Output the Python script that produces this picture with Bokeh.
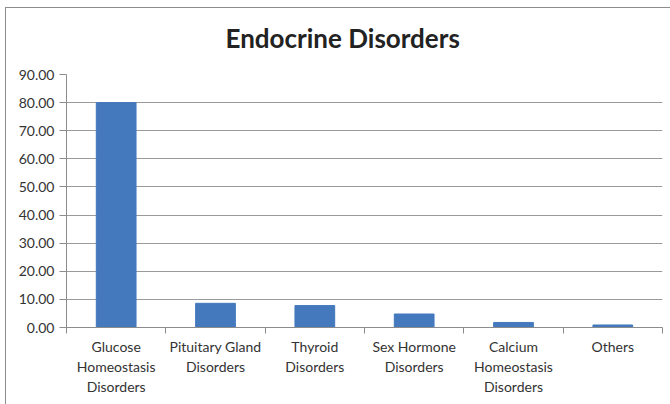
from bokeh.plotting import figure
from bokeh.models import FixedTicker, Range1d, NumeralTickFormatter, Title
from bokeh.embed import file_html
from bokeh.resources import INLINE

title_text = "Endocrine Disorders"
categories = ["Glucose\nHomeostasis\nDisorders", "Pituitary Gland\nDisorders", "Thyroid\nDisorders",
              "Sex Hormone\nDisorders", "Calcium\nHomeostasis\nDisorders", "Others"]
values = [80.0, 8.6, 7.8, 4.8, 1.8, 0.9]
y_ticks = [0, 10, 20, 30, 40, 50, 60, 70, 80, 90]

n = len(categories)
centers = [i + 0.5 for i in range(n)]

p = figure(width=666, height=400, output_backend="svg", toolbar_location=None,
           x_range=Range1d(0, n), y_range=Range1d(0, 90), title=None,
           min_border_left=60, min_border_right=10,
           min_border_top=5, min_border_bottom=81)
p.styles = {"border-left": "1px solid #8c8c8c", "border-top": "1px solid #8c8c8c",
            "margin-left": "5px", "margin-top": "7px"}

p.vbar(x=centers, top=values, width=0.4, bottom=0, color="#4479BD", line_color="#4479BD")

# spacer panel between the frame and the title
spacer = Title(text=" ", text_font_size="1px", standoff=6)
p.add_layout(spacer, "above")
main_title = Title(text=title_text, align="left", offset=159, text_font="Lato",
                   text_font_size="26px", text_font_style="bold", text_color="#222222",
                   standoff=23)
p.add_layout(main_title, "above")

p.outline_line_color = None
p.background_fill_color = "white"

# x axis
xa = p.xaxis[0]
xa.ticker = FixedTicker(ticks=centers, minor_ticks=list(range(n + 1)))
xa.major_label_overrides = {c: lab for c, lab in zip(centers, categories)}
xa.major_tick_line_color = None
xa.minor_tick_line_color = "#8c8c8c"
xa.minor_tick_out = 6
xa.minor_tick_in = 0
xa.axis_line_color = "#8c8c8c"
xa.major_label_text_font = "Lato"
xa.major_label_text_font_size = "14px"
xa.major_label_text_color = "#333333"
xa.major_label_standoff = 4

# y axis
ya = p.yaxis[0]
ya.ticker = FixedTicker(ticks=y_ticks)
ya.formatter = NumeralTickFormatter(format="0.00")
ya.axis_line_color = "#8c8c8c"
ya.major_tick_line_color = "#8c8c8c"
ya.major_tick_out = 7
ya.major_tick_in = 0
ya.minor_tick_line_color = None
ya.major_label_text_font = "Lato"
ya.major_label_text_font_size = "14px"
ya.major_label_text_color = "#333333"
ya.major_label_standoff = 5

p.xgrid.grid_line_color = None
p.ygrid.grid_line_color = "#9a9a9a"
p.ygrid.ticker = FixedTicker(ticks=y_ticks)

open("out.html", "w").write(file_html(p, INLINE))
